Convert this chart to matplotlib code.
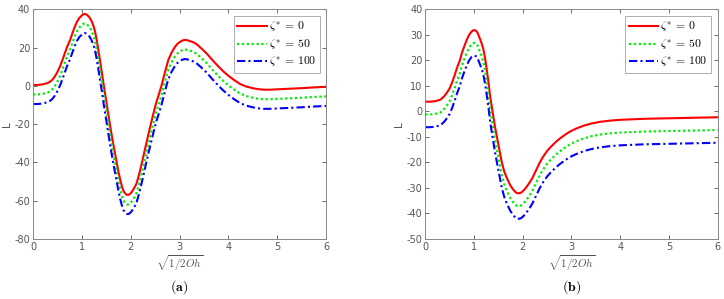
import matplotlib
matplotlib.use("Agg")
import matplotlib.pyplot as plt

plt.rcParams['mathtext.fontset'] = 'cm'
plt.rcParams['font.family'] = ['DejaVu Sans']
plt.rcParams['axes.unicode_minus'] = False

# ---- Panel (a) data ----
xa = [0, 0.1, 0.2, 0.3, 0.35, 0.4, 0.45, 0.5, 0.55, 0.6, 0.65, 0.7, 0.76, 0.8, 0.85,
      0.9, 0.95, 1.0, 1.03, 1.065, 1.1, 1.15, 1.19, 1.23, 1.27, 1.3, 1.33, 1.37, 1.41,
      1.45, 1.5, 1.54, 1.58, 1.63, 1.67, 1.71, 1.75, 1.79, 1.82, 1.85, 1.88, 1.92,
      1.95, 1.98, 2.02, 2.07, 2.12, 2.18, 2.25, 2.32, 2.4, 2.46, 2.52, 2.57, 2.63,
      2.7, 2.77, 2.84, 2.91, 2.96, 3.0, 3.05, 3.1, 3.15, 3.2, 3.28, 3.35, 3.45, 3.56,
      3.68, 3.8, 3.9, 4.0, 4.12, 4.24, 4.36, 4.5, 4.6, 4.72, 4.85, 5.0, 5.25, 5.5,
      5.75, 6.0]
a_z0 = [0.5, 0.5, 0.8, 1.5, 2.2, 3.3, 5, 7.3, 10, 13.3, 17, 20.5, 24, 27, 30.5,
        33.5, 35.5, 36.8, 37.4, 37.6, 37.2, 36, 34.3, 32, 28.5, 24.5, 20, 13.5, 7,
        0, -8, -14.5, -21, -28.5, -34, -39.5, -45, -49.5, -52.5, -54.8, -56, -56.9,
        -57, -56.6, -55.5, -53.5, -51, -45.5, -38, -30, -21.3, -15, -9, -5, 0,
        7, 13.5, 17.5, 20.5, 22, 22.8, 23.6, 24, 23.9, 23.5, 22.8, 21.8, 19.5, 16.8,
        13.3, 10, 7.5, 5.3, 3, 1, -0.3, -1.2, -1.7, -2, -2, -1.8, -1.5, -1.2,
        -0.8, -0.5]
a_z50 = [-4.5, -4.5, -4.2, -3.5, -2.8, -1.7, 0, 2.3, 5, 8.3, 12, 15.5, 19, 22, 25.5,
         28.5, 30.5, 31.8, 32.4, 32.6, 32.2, 31, 29.3, 27, 23.5, 19.5, 15, 8.5, 2,
         -5, -13, -19.5, -26, -33.5, -39, -44.5, -50, -54.5, -57.5, -59.8, -61, -61.9,
         -62, -61.6, -60.5, -58.5, -56, -50.5, -43, -35, -26.3, -20, -14, -10, -5,
         2, 8.5, 12.5, 15.5, 17, 17.8, 18.6, 19, 18.9, 18.5, 17.8, 16.8, 14.5, 11.8,
         8.3, 5, 2.5, 0.3, -2, -4, -5.3, -6.2, -6.7, -7, -7, -6.8, -6.5, -6.2,
         -5.8, -5.5]
a_z100 = [-9.5, -9.5, -9.2, -8.5, -7.8, -6.7, -5, -2.7, 0, 3.3, 7, 10.5, 14, 17, 20.5,
          23.5, 25.5, 26.8, 27.4, 27.6, 27.2, 26, 24.3, 22, 18.5, 14.5, 10, 3.5, -3,
          -10, -18, -24.5, -31, -38.5, -44, -49.5, -55, -59.5, -62.5, -64.8, -66, -66.9,
          -67, -66.6, -65.5, -63.5, -61, -55.5, -48, -40, -31.3, -25, -19, -15, -10,
          -3, 3.5, 7.5, 10.5, 12, 12.8, 13.6, 14, 13.9, 13.5, 12.8, 11.8, 9.5, 6.8,
          3.3, 0, -2.5, -4.7, -7, -9, -10.3, -11.2, -11.7, -12, -12, -11.8, -11.5, -11.2,
          -10.8, -10.5]

# ---- Panel (b) data ----
xb = [0, 0.1, 0.2, 0.3, 0.35, 0.4, 0.45, 0.5, 0.55, 0.6, 0.65, 0.71, 0.75, 0.8, 0.85,
      0.9, 0.95, 1.0, 1.04, 1.07, 1.1, 1.15, 1.19, 1.23, 1.26, 1.3, 1.33, 1.38, 1.43,
      1.47, 1.5, 1.54, 1.57, 1.62, 1.66, 1.7, 1.74, 1.78, 1.82, 1.85, 1.88, 1.915,
      1.96, 2.0, 2.05, 2.1, 2.15, 2.2, 2.27, 2.35, 2.42, 2.5, 2.58, 2.66, 2.75, 2.85,
      2.92, 3.0, 3.1, 3.25, 3.4, 3.58, 3.8, 4.0, 4.25, 4.5, 5.0, 5.5, 6.0]
b_z0 = [3.8, 3.8, 4, 4.5, 5.2, 6.2, 7.5, 9, 11.3, 14, 17, 20, 22.8, 25.5, 28,
        30, 31.3, 31.9, 31.6, 30.9, 29.5, 27, 24.5, 20.5, 16.5, 11, 6, 0, -6,
        -10, -13, -17, -20, -23.5, -25.5, -27.2, -28.8, -30, -31, -31.6, -32, -32.1,
        -31.9, -31.3, -30.3, -29, -27.6, -26, -23.2, -20, -17.7, -15.5, -13.8, -12.3, -10.8, -9.4,
        -8.5, -7.6, -6.7, -5.6, -4.8, -4.1, -3.6, -3.3, -3.1, -2.9, -2.7, -2.5, -2.3]
b_z50 = [-1.2, -1.2, -1, -0.5, 0.2, 1.2, 2.5, 4, 6.3, 9, 12, 15, 17.8, 20.5, 23,
         25, 26.3, 26.9, 26.6, 25.9, 24.5, 22, 19.5, 15.5, 11.5, 6, 1, -5, -11,
         -15, -18, -22, -25, -28.5, -30.5, -32.2, -33.8, -35, -36, -36.6, -37, -37.1,
         -36.9, -36.3, -35.3, -34, -32.6, -31, -28.2, -25, -22.7, -20.5, -18.8, -17.3, -15.8, -14.4,
         -13.5, -12.6, -11.7, -10.6, -9.8, -9.1, -8.6, -8.3, -8.1, -7.9, -7.7, -7.5, -7.3]
b_z100 = [-6.2, -6.2, -6, -5.5, -4.8, -3.8, -2.5, -1, 1.3, 4, 7, 10, 12.8, 15.5, 18,
          20, 21.3, 21.9, 21.6, 20.9, 19.5, 17, 14.5, 10.5, 6.5, 1, -4, -10, -16,
          -20, -23, -27, -30, -33.5, -35.5, -37.2, -38.8, -40, -41, -41.6, -42, -42.1,
          -41.9, -41.3, -40.3, -39, -37.6, -36, -33.2, -30, -27.7, -25.5, -23.8, -22.3, -20.8, -19.4,
          -18.5, -17.6, -16.7, -15.6, -14.8, -14.1, -13.6, -13.3, -13.1, -12.9, -12.7, -12.5, -12.3]

labels = [r'$\zeta^{*}\,=\,0$', r'$\zeta^{*}\,=\,50$', r'$\zeta^{*}\,=\,100$']
ticks_a = [40, 20, 0, -20, -40, -60, -80]
ticks_b = [40, 30, 20, 10, 0, -10, -20, -30, -40, -50]
xticks = [0, 1, 2, 3, 4, 5, 6]

fig = plt.figure(figsize=(7.24, 2.99), dpi=100)
ax1 = fig.add_axes([0.0456, 0.2007, 0.4047, 0.7682])
ax2 = fig.add_axes([0.5874, 0.2007, 0.4039, 0.7682])

gray = '#555555'
for ax, x, ys, yt, cap in [(ax1, xa, (a_z0, a_z50, a_z100), ticks_a, 'a'),
                           (ax2, xb, (b_z0, b_z50, b_z100), ticks_b, 'b')]:
    ax.plot(x, ys[0], color='#ff0000', lw=1.5, ls='-', label=labels[0])
    ax.plot(x, ys[1], color='#00ee00', lw=1.6, ls=(0, (1, 1.2)), label=labels[1])
    ax.plot(x, ys[2], color='#0000ff', lw=1.5, ls=(0, (4, 1.5, 1, 1.5)), label=labels[2])
    ax.set_xlim(0, 6)
    ax.set_ylim(min(yt), max(yt))
    ax.set_yticks(yt)
    ax.set_xticks(xticks)
    ax.tick_params(direction='in', length=3, width=0.6, labelsize=7, colors=gray,
                   top=True, right=True, pad=2)
    for s in ax.spines.values():
        s.set_color('#8a8a8a')
        s.set_linewidth(0.7)
    ax.set_ylabel('L', fontsize=7.5, color=gray)
    ax.yaxis.set_label_coords(-0.072, 0.5)
    ax.set_xlabel(r'$\sqrt{1/2Oh}$', fontsize=8, color=gray, labelpad=1)
    leg = ax.legend(loc='upper right', fontsize=8.5, frameon=True, fancybox=False,
                    handlelength=2.5, handletextpad=0.15, labelspacing=0.25,
                    borderpad=0.3, borderaxespad=0.55)
    leg.get_frame().set_edgecolor('#999999')
    leg.get_frame().set_linewidth(0.7)
    pos = ax.get_position()
    fig.text((pos.x0 + pos.x1) / 2, 0.04, r'$(\mathbf{%s})$' % cap, ha='center',
             va='center', fontsize=10, color='black')

fig.savefig('out.png', dpi=100)
